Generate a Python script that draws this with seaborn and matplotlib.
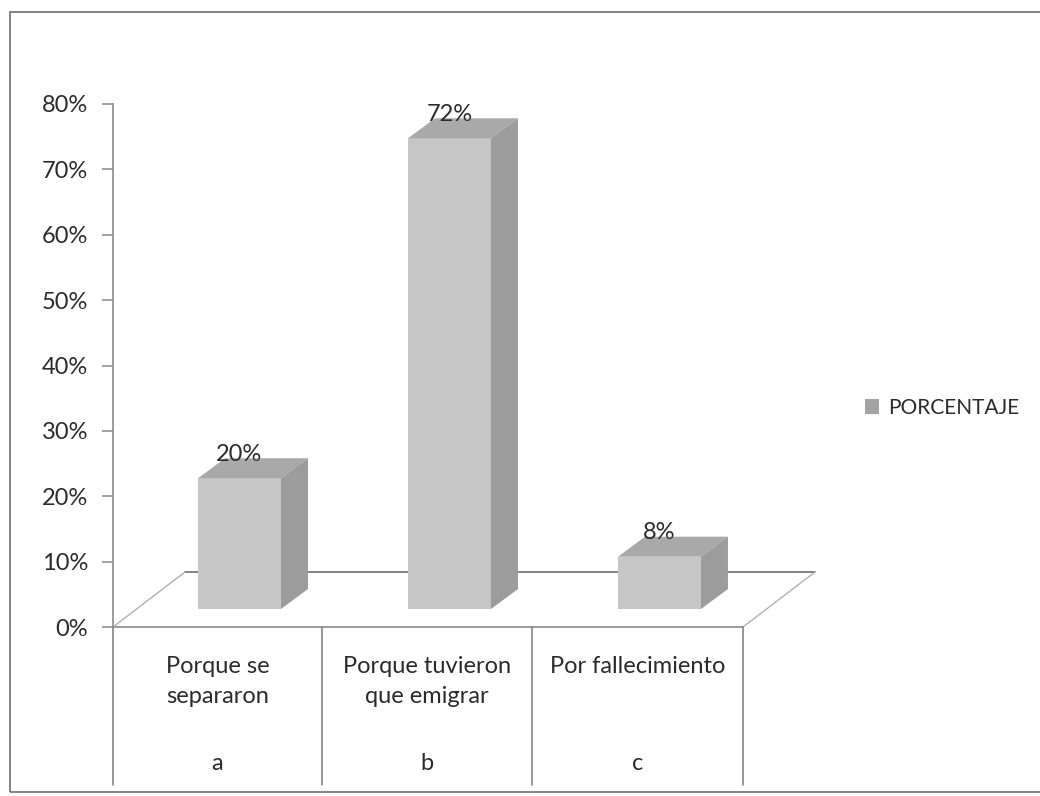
import matplotlib
matplotlib.use("Agg")
import matplotlib.pyplot as plt
import seaborn as sns
from matplotlib.patches import Polygon, Patch, Rectangle

# datos
categorias = ["Porque se\nsepararon", "Porque tuvieron\nque emigrar", "Por fallecimiento"]
letras = ["a", "b", "c"]
porcentajes = [20, 72, 8]
ticks_y = [0, 10, 20, 30, 40, 50, 60, 70, 80]
serie = "PORCENTAJE"

sns.set_theme(style="white")
plt.rcParams['font.family'] = ['Lato', 'DejaVu Sans']

FRONT = "#c6c6c6"
TOP = "#a9a9a9"
SIDE = "#9c9c9c"
LINE = "#8a8a8a"
TXT = "#2b2b2b"
FS = 17

W, H = 1040, 796
fig = plt.figure(figsize=(W / 100, H / 100), dpi=100)
fig.patch.set_facecolor("white")

# marco exterior del grafico (escaneado)
fig.patches.append(Rectangle((10 / W, 1 - 792 / H), 1.2, (792 - 12) / H,
                             transform=fig.transFigure, fill=False,
                             edgecolor="#7a7a7a", lw=1.3))

px_x = 210.0      # pixeles por categoria
px_y = 523 / 80.0  # pixeles por punto porcentual
x0 = -126.5 / px_x
x1 = x0 + 714.4 / px_x
ax = fig.add_axes([113 / W, (H - 627) / H, 714.4 / W, 523 / H])

ancho = 0.395
sns.barplot(x=categorias, y=porcentajes, color=FRONT, width=ancho,
            saturation=1, edgecolor="none", ax=ax, zorder=3)

base = 18 / px_y          # frente de las barras elevado sobre el piso
dx, dy = 27 / px_x, 20 / px_y
fdx, fdy = 72 / px_x, 55 / px_y
frente_der = x0 + 630 / px_x

# piso en perspectiva
ax.plot([x0, frente_der], [0, 0], color=LINE, lw=1.2, zorder=1, clip_on=False)
ax.plot([x0 + fdx, frente_der + fdx], [fdy, fdy], color="#6f6f6f", lw=1.2, zorder=1, clip_on=False)
ax.plot([x0, x0 + fdx], [0, fdy], color="#b0b0b0", lw=1.0, zorder=1, clip_on=False)
ax.plot([frente_der, frente_der + fdx], [0, fdy], color="#b0b0b0", lw=1.0, zorder=1, clip_on=False)

for i, (p, v) in enumerate(zip(ax.patches, porcentajes)):
    p.set_y(base)
    xl = p.get_x()
    xr = xl + p.get_width()
    tope = base + v
    ax.add_patch(Polygon([(xl, tope), (xr, tope), (xr + dx, tope + dy), (xl + dx, tope + dy)],
                         closed=True, facecolor=TOP, edgecolor="none", zorder=3))
    ax.add_patch(Polygon([(xr, base), (xr + dx, base + dy), (xr + dx, tope + dy), (xr, tope)],
                         closed=True, facecolor=SIDE, edgecolor="none", zorder=3))
    ax.text(i, tope + dy - 0.4, f"{v}%", ha="center", va="baseline",
            fontsize=FS, color=TXT, zorder=4)

# tabla de categorias debajo del eje
lineas_tabla = [x0, x0 + 209 / px_x, x0 + 419 / px_x, frente_der]
fondo = -158 / px_y
for xv in lineas_tabla:
    ax.plot([xv, xv], [0, fondo], color="#7a7a7a", lw=1.1, clip_on=False, zorder=1)
for j, (cat, letra) in enumerate(zip(categorias, letras)):
    cx = (lineas_tabla[j] + lineas_tabla[j + 1]) / 2
    ax.text(cx, -29 / px_y, cat, ha="center", va="top", fontsize=FS,
            color=TXT, linespacing=1.55, clip_on=False)
    ax.text(cx, -136 / px_y, letra, ha="center", va="center", fontsize=FS,
            color=TXT, clip_on=False)

ax.set_xlim(x0, x1)
ax.set_ylim(0, 80)
ax.set_xticks([])
ax.set_xlabel("")
ax.set_yticks(ticks_y)
ax.set_yticklabels([f"{t}%" for t in ticks_y])
ax.tick_params(axis="y", direction="out", length=8, width=1.1, color=LINE,
               labelsize=FS, labelcolor=TXT, pad=10, left=True)
for s in ["top", "right", "bottom"]:
    ax.spines[s].set_visible(False)
ax.spines["left"].set_color(LINE)
ax.spines["left"].set_linewidth(1.2)
ax.set_facecolor("none")

fig.legend(handles=[Patch(facecolor="#a3a3a3", edgecolor="none", label=serie)],
           loc="center left", bbox_to_anchor=(846 / W, 1 - 408 / H), frameon=False,
           fontsize=15, handlelength=0.7, handleheight=0.7, handletextpad=0.4,
           labelcolor=TXT)

fig.savefig("out.png", dpi=100, facecolor="white")
